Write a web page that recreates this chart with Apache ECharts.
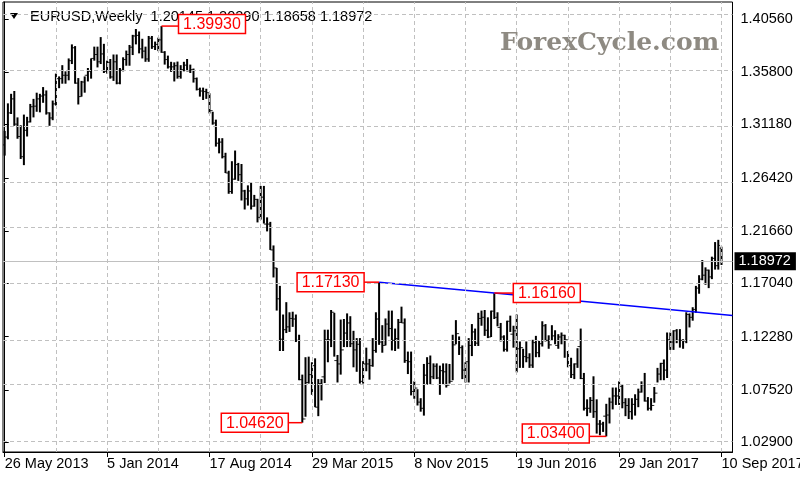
<!DOCTYPE html>
<html><head><meta charset="utf-8">
<script src="https://cdn.jsdelivr.net/npm/echarts@6/dist/echarts.min.js"></script>
<style>html,body{margin:0;padding:0;background:#fff;overflow:hidden}#c{width:800px;height:480px}</style>
</head><body><div id="c"></div>
<script>
// ---- DATA ----
// weekly bars, index 0 = week of 26 May 2013
const opens = [1.2935,1.3005,1.3220,1.3345,1.3120,1.3010,1.2830,1.3065,1.3140,1.3275,1.3280,1.3345,1.3370,1.3380,1.3220,1.3175,1.3300,1.3525,1.3525,1.3555,
1.3555,1.3685,1.3800,1.3485,1.3365,1.3495,1.3555,1.3590,1.3705,1.3740,1.3675,1.3745,1.3590,1.3670,1.3540,1.3675,1.3485,1.3600,1.3695,1.3740,
1.3805,1.3905,1.3910,1.3790,1.3770,1.3700,1.3885,1.3810,1.3830,1.3870,1.3760,1.3695,1.3630,1.3630,1.3640,1.3545,1.3605,1.3645,1.3595,1.3605,
1.3525,1.3430,1.3415,1.3410,1.3400,1.3240,1.3130,1.2950,1.2960,1.2830,1.2685,1.2520,1.2630,1.2760,1.2670,1.2525,1.2455,1.2525,1.2390,1.2450,
1.2290,1.2470,1.2230,1.2230,1.2000,1.1840,1.1565,1.1205,1.1290,1.1315,1.1390,1.1385,1.1195,1.0845,1.0495,1.0820,1.0890,1.0970,1.0600,1.0810,
1.0870,1.1200,1.1200,1.1445,1.1015,1.0985,1.1110,1.1260,1.1350,1.1165,1.1110,1.1160,1.0830,1.0985,1.0985,1.0970,1.1105,1.1385,1.1180,1.1150,
1.1340,1.1300,1.1195,1.1210,1.1355,1.1350,1.1015,1.1005,1.0740,1.0770,1.0645,1.0590,1.0885,1.0990,1.0870,1.0965,1.0860,1.0925,1.0915,1.0795,
1.0830,1.1155,1.1255,1.1130,1.0930,1.1005,1.1150,1.1270,1.1170,1.1390,1.1400,1.1285,1.1225,1.1455,1.1400,1.1310,1.1225,1.1115,1.1365,1.1250,
1.1280,1.1120,1.1130,1.1050,1.1040,1.0975,1.1175,1.1085,1.1165,1.1325,1.1195,1.1155,1.1235,1.1150,1.1225,1.1240,1.1200,1.0970,1.0890,1.0985,
1.1140,1.0855,1.0590,1.0590,1.0660,1.0560,1.0450,1.0450,1.0520,1.0530,1.0645,1.0700,1.0700,1.0785,1.0640,1.0615,1.0560,1.0625,1.0670,1.0735,
1.0800,1.0655,1.0590,1.0615,1.0725,1.0895,1.0990,1.0930,1.1200,1.1180,1.1280,1.1195,1.1195,1.1190,1.1425,1.1400,1.1470,1.1660,1.1740,1.1775,
1.1820,1.1760,1.1925,1.1860,1.20145];
const highs = [1.3060,1.3305,1.3390,1.3415,1.3180,1.3110,1.3205,1.3185,1.3300,1.3345,1.3400,1.3390,1.3450,1.3420,1.3225,1.3330,1.3570,1.3545,1.3645,1.3590,
1.3705,1.3830,1.3815,1.3530,1.3505,1.3545,1.3620,1.3705,1.3810,1.3810,1.3895,1.3835,1.3685,1.3700,1.3740,1.3740,1.3620,1.3715,1.3775,1.3825,
1.3915,1.3967,1.3945,1.3880,1.3810,1.3905,1.3905,1.3855,1.3890,1.3993,1.3770,1.3730,1.3675,1.3670,1.3677,1.3645,1.3675,1.3700,1.3650,1.3615,
1.3535,1.3445,1.3445,1.3435,1.3395,1.3230,1.3160,1.2995,1.2995,1.2865,1.2705,1.2790,1.2885,1.2775,1.2765,1.2535,1.2575,1.2600,1.2490,1.2455,
1.2570,1.2570,1.2290,1.2250,1.2040,1.1840,1.1680,1.1425,1.1535,1.1445,1.1450,1.1425,1.1245,1.0890,1.1045,1.1050,1.1000,1.1035,1.0850,1.0850,
1.1290,1.1290,1.1465,1.1440,1.1065,1.1380,1.1385,1.1435,1.1410,1.1280,1.1215,1.1215,1.1010,1.1130,1.1030,1.1215,1.1445,1.1713,1.1330,1.1390,
1.1460,1.1460,1.1300,1.1385,1.1495,1.1390,1.1095,1.1095,1.0830,1.0760,1.0680,1.0985,1.1045,1.1060,1.0990,1.0990,1.0970,1.0990,1.0990,1.0985,
1.1245,1.1375,1.1230,1.1150,1.1000,1.1215,1.1340,1.1300,1.1440,1.1460,1.1465,1.1400,1.1460,1.1616,1.1445,1.1350,1.1240,1.1370,1.1415,1.1325,
1.1425,1.1185,1.1120,1.1185,1.1080,1.1200,1.1235,1.1190,1.1365,1.1340,1.1240,1.1330,1.1285,1.1250,1.1265,1.1245,1.1100,1.1040,1.0990,1.1125,
1.1300,1.0905,1.0670,1.0690,1.0875,1.0670,1.0485,1.0470,1.0630,1.0685,1.0775,1.0775,1.0830,1.0800,1.0680,1.0680,1.0680,1.0715,1.0765,1.0830,
1.0905,1.0690,1.0680,1.0780,1.0950,1.0995,1.1025,1.1265,1.1265,1.1285,1.1295,1.1295,1.1205,1.1445,1.1435,1.1490,1.1680,1.1775,1.1910,1.1845,
1.1825,1.1940,1.2070,1.2090,1.2029];
const lows = [1.2840,1.2985,1.3210,1.3105,1.2990,1.2810,1.2755,1.3010,1.3135,1.3180,1.3230,1.3225,1.3310,1.3205,1.3105,1.3155,1.3285,1.3440,1.3480,1.3480,
1.3510,1.3655,1.3480,1.3295,1.3365,1.3400,1.3500,1.3525,1.3685,1.3625,1.3655,1.3575,1.3570,1.3525,1.3505,1.3475,1.3475,1.3590,1.3640,1.3640,
1.3735,1.3830,1.3750,1.3705,1.3675,1.3675,1.3790,1.3780,1.3770,1.3755,1.3650,1.3615,1.3585,1.3500,1.3525,1.3525,1.3590,1.3590,1.3575,1.3490,
1.3420,1.3365,1.3335,1.3345,1.3215,1.3115,1.2920,1.2860,1.2815,1.2685,1.2500,1.2500,1.2625,1.2615,1.2440,1.2360,1.2395,1.2360,1.2385,1.2245,
1.2270,1.2235,1.2165,1.2000,1.1755,1.1460,1.1100,1.1100,1.1260,1.1270,1.1315,1.1180,1.0840,1.0462,1.0515,1.0810,1.0710,1.0600,1.0520,1.0660,
1.0815,1.1000,1.1135,1.1050,1.0820,1.0890,1.1135,1.1135,1.1135,1.0955,1.0915,1.0810,1.0810,1.0920,1.0845,1.0960,1.1085,1.1155,1.1085,1.1150,
1.1230,1.1105,1.1100,1.1120,1.1350,1.0995,1.0895,1.0705,1.0675,1.0615,1.0560,1.0525,1.0800,1.0805,1.0850,1.0850,1.0710,1.0805,1.0775,1.0810,
1.0840,1.1160,1.1065,1.0850,1.0820,1.0820,1.1055,1.1145,1.1145,1.1325,1.1235,1.1215,1.1225,1.1385,1.1320,1.1185,1.1095,1.1095,1.1270,1.1130,
1.0910,1.0950,1.0950,1.1000,1.0950,1.0950,1.1045,1.1045,1.1140,1.1185,1.1120,1.1195,1.1160,1.1120,1.1160,1.1040,1.0955,1.0860,1.0850,1.0950,
1.0850,1.0570,1.0520,1.0550,1.0505,1.0365,1.0350,1.0380,1.0340,1.0455,1.0580,1.0620,1.0620,1.0590,1.0520,1.0495,1.0490,1.0525,1.0600,1.0730,
1.0650,1.0570,1.0570,1.0640,1.0820,1.0840,1.0840,1.0860,1.1110,1.1110,1.1170,1.1130,1.1120,1.1170,1.1310,1.1370,1.1440,1.1610,1.1730,1.1690,
1.1660,1.1740,1.1825,1.1825,1.18658];
const closes = [1.3005,1.3220,1.3345,1.3120,1.3010,1.2830,1.3065,1.3140,1.3275,1.3280,1.3345,1.3370,1.3380,1.3220,1.3175,1.3300,1.3525,1.3525,1.3555,1.3555,
1.3685,1.3800,1.3485,1.3365,1.3495,1.3555,1.3590,1.3705,1.3740,1.3675,1.3745,1.3590,1.3670,1.3540,1.3675,1.3485,1.3600,1.3695,1.3740,1.3805,
1.3905,1.3910,1.3790,1.3770,1.3700,1.3885,1.3810,1.3830,1.3870,1.3760,1.3695,1.3630,1.3630,1.3640,1.3545,1.3605,1.3645,1.3595,1.3605,1.3525,
1.3430,1.3415,1.3410,1.3400,1.3240,1.3130,1.2950,1.2960,1.2830,1.2685,1.2520,1.2630,1.2760,1.2670,1.2525,1.2455,1.2525,1.2390,1.2450,1.2290,
1.2470,1.2230,1.2230,1.2000,1.1840,1.1565,1.1205,1.1290,1.1315,1.1390,1.1385,1.1195,1.0845,1.0495,1.0820,1.0890,1.0970,1.0600,1.0810,1.0870,
1.1200,1.1200,1.1445,1.1015,1.0985,1.1110,1.1260,1.1350,1.1165,1.1110,1.1160,1.0830,1.0985,1.0985,1.0970,1.1105,1.1385,1.1180,1.1150,1.1340,
1.1300,1.1195,1.1210,1.1355,1.1350,1.1015,1.1005,1.0740,1.0770,1.0645,1.0590,1.0885,1.0990,1.0870,1.0965,1.0860,1.0925,1.0915,1.0795,1.0830,
1.1155,1.1255,1.1130,1.0930,1.1005,1.1150,1.1270,1.1170,1.1390,1.1400,1.1285,1.1225,1.1455,1.1400,1.1310,1.1225,1.1115,1.1365,1.1250,1.1280,
1.1120,1.1130,1.1050,1.1040,1.0975,1.1175,1.1085,1.1165,1.1325,1.1195,1.1155,1.1235,1.1150,1.1225,1.1240,1.1200,1.0970,1.0890,1.0985,1.1140,
1.0855,1.0590,1.0590,1.0660,1.0560,1.0450,1.0450,1.0520,1.0530,1.0645,1.0700,1.0700,1.0785,1.0640,1.0615,1.0560,1.0625,1.0670,1.0735,1.0800,
1.0655,1.0590,1.0615,1.0725,1.0895,1.0990,1.0930,1.1200,1.1180,1.1280,1.1195,1.1195,1.1190,1.1425,1.1400,1.1470,1.1660,1.1740,1.1775,1.1820,
1.1760,1.1925,1.1860,1.2040,1.18972];

const symbolName = 'EURUSD,Weekly';
const lastPrice = 1.18972;
const yTicks = [1.02900, 1.07520, 1.12280, 1.17040, 1.21660, 1.26420, 1.31180, 1.35800, 1.40560];
const xTickIdx = [0, 32, 64, 96, 128, 160, 192, 224];
const xTickLabels = ['26 May 2013', '5 Jan 2014', '17 Aug 2014', '29 Mar 2015', '8 Nov 2015', '19 Jun 2016', '29 Jan 2017', '10 Sep 2017'];
const xGridIdx = [16, 32, 48, 64, 80, 96, 112, 128, 144, 160, 176, 192, 208, 224];
const annIdx = [49, 117, 153, 93, 188];
const annVal = [1.39930, 1.17130, 1.16160, 1.04620, 1.03400];
const trendIdx = [117, 153];
const trendVal = [1.17130, 1.16160];

// ---- LAYOUT / STYLE ----
const X_MIN = -0.53, X_MAX = 227.44;
const Y_MIN = 1.0201, Y_MAX = 1.42074;
const FONT = 'Liberation Sans';
const annLayout = [
  {side: 'right', gap: 17, dy: -2},
  {side: 'left', gap: 15, dy: 0},
  {side: 'right', gap: 19, dy: 0},
  {side: 'left', gap: 14, dy: 0},
  {side: 'left', gap: 17, dy: -3}
];

const barData = opens.map((o, i) => [i, o, highs[i], lows[i], closes[i]]);
const slope = (trendVal[1] - trendVal[0]) / (trendIdx[1] - trendIdx[0]);
const trendData = [[trendIdx[0], trendVal[0]], [trendIdx[1], trendVal[1]], [X_MAX, trendVal[0] + slope * (X_MAX - trendIdx[0])]];
const annData = annIdx.map((idx, k) => [idx, annVal[k], k]);

function renderBar(params, api) {
  const i = api.value(0);
  const pO = api.coord([i, api.value(1)]);
  const pH = api.coord([i, api.value(2)]);
  const pL = api.coord([i, api.value(3)]);
  const pC = api.coord([i, api.value(4)]);
  const x = pH[0];
  return {
    type: 'group',
    children: [
      {type: 'rect', shape: {x: x - 1, y: pH[1], width: 2, height: Math.max(1, pL[1] - pH[1])}, style: {fill: '#000'}},
      {type: 'line', shape: {x1: x - 1.8, y1: pO[1], x2: x, y2: pO[1]}, style: {stroke: '#000', lineWidth: 0.8}},
      {type: 'line', shape: {x1: x, y1: pC[1], x2: x + 1.8, y2: pC[1]}, style: {stroke: '#000', lineWidth: 0.8}}
    ]
  };
}

function renderAnn(params, api) {
  const k = api.value(2);
  const lay = annLayout[k];
  const p = api.coord([api.value(0), api.value(1)]);
  const w = 67, h = 19;
  const text = annVal[k].toFixed(5);
  let bx, lx1, lx2;
  if (lay.side === 'right') { bx = p[0] + lay.gap; lx1 = p[0]; lx2 = bx; }
  else { bx = p[0] - lay.gap - w; lx1 = bx + w; lx2 = p[0]; }
  const by = p[1] - h / 2 + lay.dy;
  return {
    type: 'group',
    children: [
      {type: 'line', shape: {x1: lx1, y1: p[1], x2: lx2, y2: p[1]}, style: {stroke: '#ff0000', lineWidth: 1.5}},
      {type: 'rect', shape: {x: bx, y: by, width: w, height: h}, style: {fill: '#fff', stroke: '#ff0000', lineWidth: 1.5}},
      {type: 'text', x: bx + w / 2, y: by + h / 2 + 0.5, style: {text: text, fill: '#ff0000', font: '16px "' + FONT + '"', align: 'center', verticalAlign: 'middle'}}
    ]
  };
}

const chart = echarts.init(document.getElementById('c'), null, {renderer: 'canvas'});
chart.setOption({
  animation: false,
  backgroundColor: '#fff',
  grid: {left: 3, right: 67.5, top: 2, bottom: 28, show: true, borderColor: '#000', borderWidth: 1, containLabel: false, outerBoundsMode: 'none'},
  xAxis: {
    type: 'value', min: X_MIN, max: X_MAX,
    axisLine: {show: true, onZero: false, lineStyle: {color: '#000'}},
    axisTick: {show: true, customValues: xTickIdx, length: 5, lineStyle: {color: '#000'}},
    axisLabel: {
      customValues: xTickIdx, align: 'left', margin: 4, hideOverlap: false,
      fontFamily: FONT, fontSize: 14.5, color: '#000',
      formatter: v => { const k = xTickIdx.indexOf(Math.round(v)); return k >= 0 ? xTickLabels[k] : ''; }
    },
    splitLine: {show: false}
  },
  yAxis: {
    type: 'value', position: 'right', min: Y_MIN, max: Y_MAX, scale: true,
    axisLine: {show: true, lineStyle: {color: '#000'}},
    axisTick: {show: true, customValues: yTicks, length: 4, lineStyle: {color: '#000'}},
    axisLabel: {customValues: yTicks, margin: 8, fontFamily: FONT, fontSize: 14.5, color: '#000', formatter: v => v.toFixed(5)},
    splitLine: {show: false}
  },
  graphic: [
    {type: 'polygon', shape: {points: [[10, 13], [18, 13], [14, 19]]}, style: {fill: '#000'}, z: 0},
    {type: 'text', x: 30, y: 17, style: {text: symbolName + '  ' + [opens[224], highs[224], lows[224], closes[224]].map(v => v.toFixed(5)).join(' '), font: '14.5px "' + FONT + '"', fill: '#000', verticalAlign: 'middle'}, z: 0},
    {type: 'text', x: 500, y: 43, style: {text: 'ForexCycle.com', font: 'bold 25px "DejaVu Serif"', fill: '#8e8a82', verticalAlign: 'middle'}, z: 0}
  ],
  series: [
    {
      type: 'line', data: [], silent: true, z: 1,
      markLine: {
        silent: true, symbol: ['none', 'none'], label: {show: false}, animation: false,
        lineStyle: {color: '#c0c0c0', type: [4, 3], width: 1},
        data: xGridIdx.map(v => ({xAxis: v})).concat(yTicks.map(v => ({yAxis: v})))
      }
    },
    {
      type: 'line', data: [], silent: true, z: 1,
      markLine: {
        silent: true, symbol: ['none', 'none'], animation: false,
        lineStyle: {color: '#c0c0c0', type: 'solid', width: 1},
        label: {show: true, position: 'end', distance: 2, formatter: () => lastPrice.toFixed(5), color: '#fff', backgroundColor: '#000', padding: [2, 5, 1, 4], fontFamily: FONT, fontSize: 14.5},
        data: [{yAxis: lastPrice}]
      }
    },
    {type: 'custom', renderItem: renderBar, data: barData, z: 3, clip: true, encode: {x: 0, y: [2, 3]}},
    {type: 'line', data: trendData, symbol: 'none', z: 4, clip: true, lineStyle: {color: '#0000ff', width: 1.5}},
    {type: 'custom', renderItem: renderAnn, data: annData, z: 5, clip: false, encode: {x: 0, y: 1}}
  ]
});
</script>
</body></html>
